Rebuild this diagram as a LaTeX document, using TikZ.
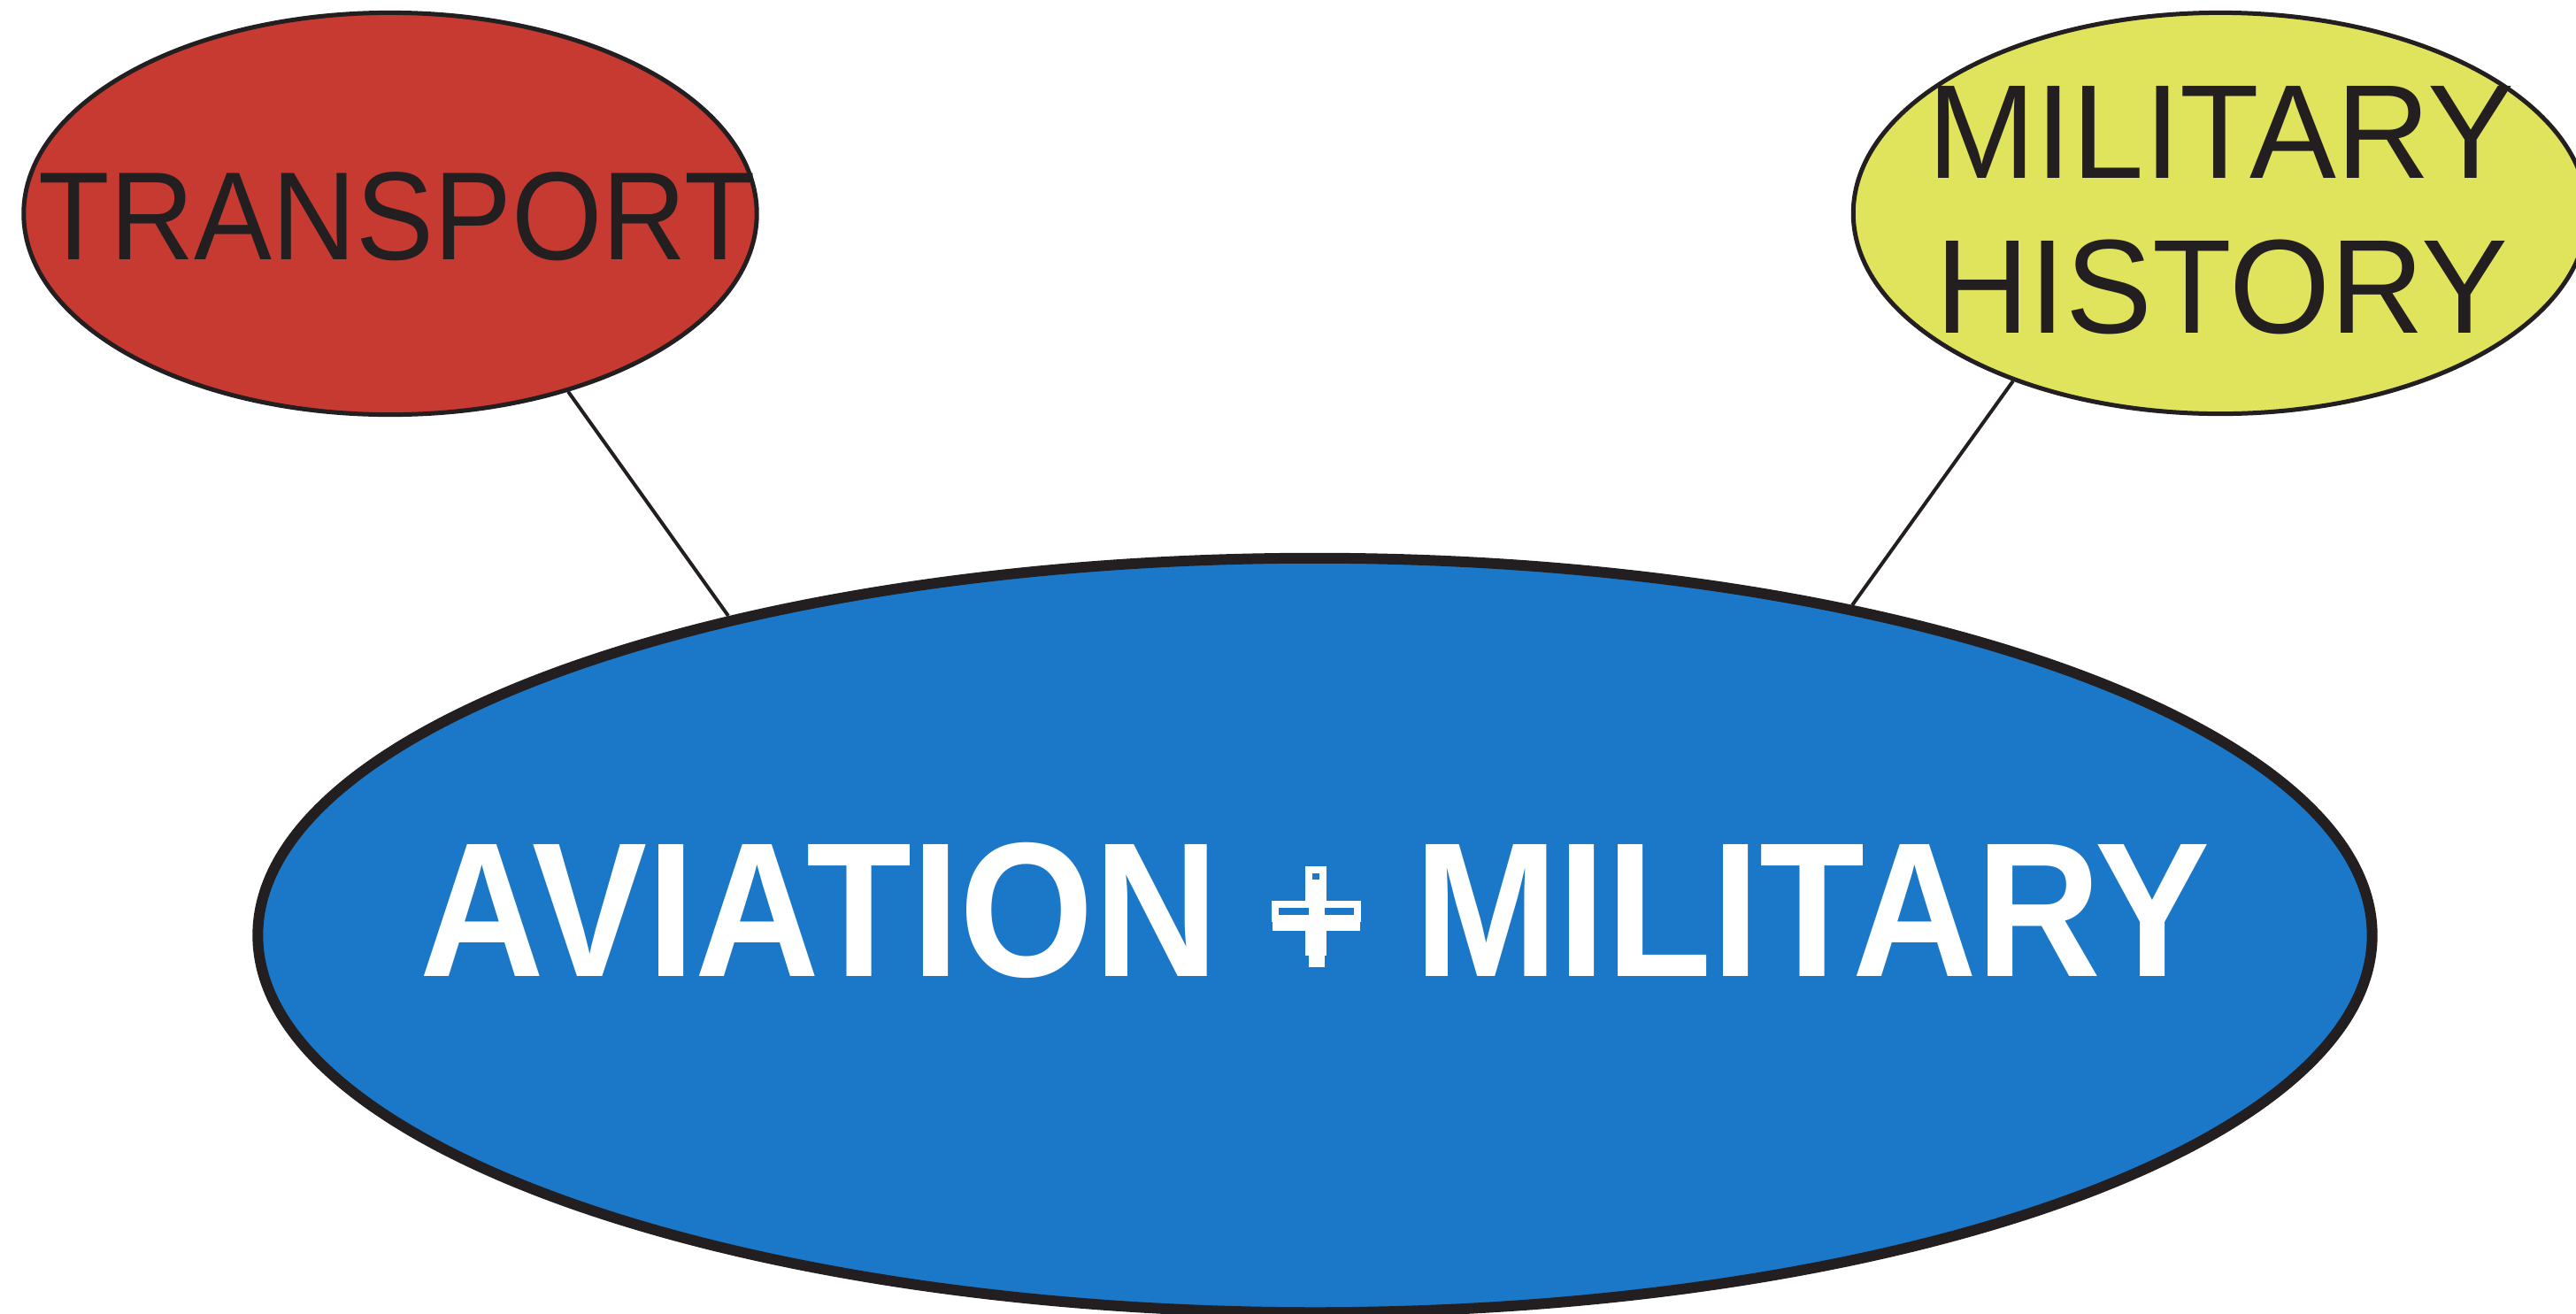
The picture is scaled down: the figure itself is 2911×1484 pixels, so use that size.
\documentclass[tikz,border=0pt]{standalone}
\usepackage{fontspec}
\setmainfont{Liberation Sans}
\usetikzlibrary{shapes.geometric}
\definecolor{inkdark}{HTML}{231F20}
\definecolor{bubblered}{HTML}{C63A32}
\definecolor{bubbleyellow}{HTML}{E0E35C}
\definecolor{bubbleblue}{HTML}{1B78C8}
\tikzset{
  bubble/.style={ellipse, draw=inkdark, inner sep=0pt},
  smallbubble/.style={bubble, line width=1.42pt, minimum width=8.28cm, minimum height=4.54cm},
  blacklabel/.style={anchor=base, inner sep=0pt, text=inkdark},
  whitelabel/.style={anchor=base, inner sep=0pt, text=white},
  link/.style={draw=inkdark, line width=1.14pt}
}
\begin{document}
\begin{tikzpicture}[x=0.01cm,y=-0.01cm]
\useasboundingbox (0,0) rectangle (2911,1484);
% main ellipse
\node[bubble, fill=bubbleblue, line width=3.41pt, minimum width=23.88cm, minimum height=8.52cm] (big) at (1486,1057) {};
% side ellipses
\node[smallbubble, fill=bubblered] (trans) at (441,241.5) {};
\node[smallbubble, fill=bubbleyellow, minimum width=8.29cm, minimum height=4.53cm] (mil) at (2509,241) {};
% connector ends on the main ellipse rim
\coordinate (bigleft) at ([shift={(-663,-361)}]big.center);
\coordinate (bigright) at ([shift={(607,-373)}]big.center);
% connectors
\draw[link] (trans.-45) -- (bigleft);
\draw[link] (mil.-141) -- (bigright);
% labels
\node[blacklabel, font=\fontsize{40.3pt}{48pt}\selectfont] (transtxt) at (449,293) {\scalebox{0.93}[1]{TRANSPORT}};
\node[blacklabel, font=\fontsize{43pt}{52pt}\selectfont] (miltxt1) at (2510,201) {\scalebox{0.97}[1]{MILITARY}};
\node[blacklabel, font=\fontsize{43pt}{52pt}\selectfont] (miltxt2) at (2511,376) {\scalebox{0.97}[1]{HISTORY}};
\node[whitelabel, font=\bfseries\fontsize{61.6pt}{72pt}\selectfont] (avtxt) at (926,1103) {\scalebox{0.90}[1]{AVIATION}};
\node[whitelabel, font=\bfseries\fontsize{61.6pt}{72pt}\selectfont] (miltxt3) at (2048,1103) {\scalebox{0.90}[1]{MILITARY}};
% cross glyph
\fill[white] (1475,979) rectangle (1499,1080);
\fill[white] (1479,1080) rectangle (1497,1093);
\fill[white] (1437,1018) rectangle (1538,1042);
\fill[white] (1438,1042) rectangle (1537,1052);
\fill[bubbleblue] (1483,987) rectangle (1491,994);
\fill[bubbleblue] (1445,1026) rectangle (1479,1034);
\fill[bubbleblue] (1497,1026) rectangle (1530,1034);
\end{tikzpicture}
\end{document}
